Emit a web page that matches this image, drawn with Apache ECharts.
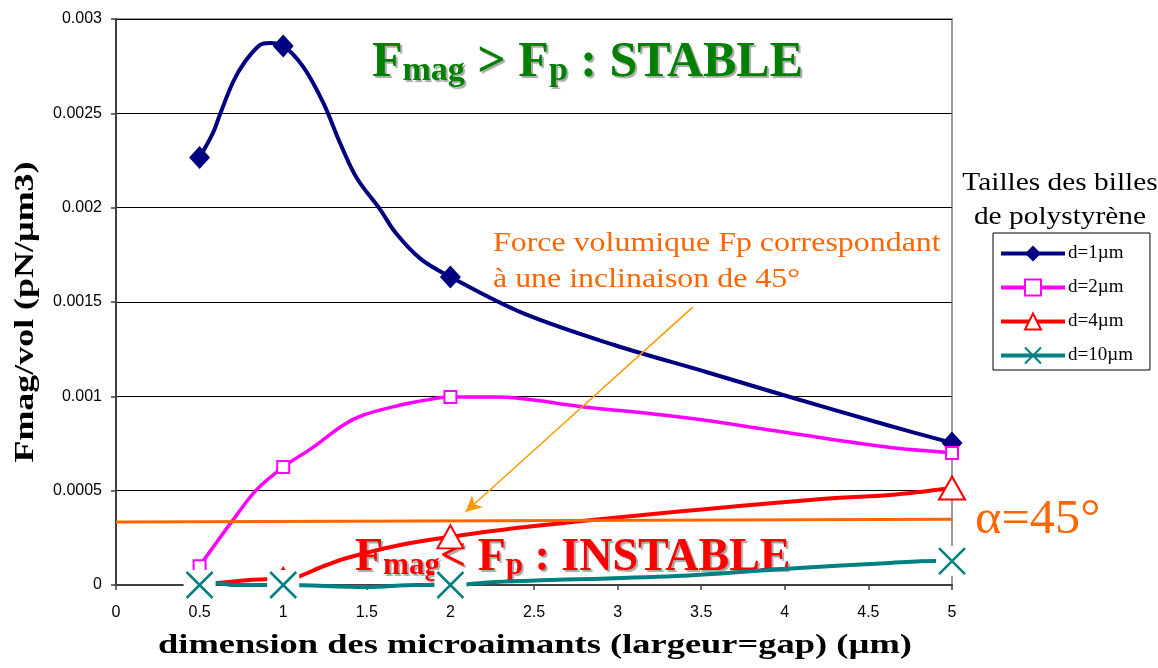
<!DOCTYPE html>
<html>
<head>
<meta charset="utf-8">
<script src="https://cdn.jsdelivr.net/npm/echarts@6/dist/echarts.min.js"></script>
<style>html,body{margin:0;padding:0;background:#fff}#c{width:1158px;height:668px}</style>
</head>
<body>
<div id="c"></div>
<script>
// ---- data ----
const seriesNames = ['d=1µm', 'd=2µm', 'd=4µm', 'd=10µm'];
const xTickLabels = ['0', '0.5', '1', '1.5', '2', '2.5', '3', '3.5', '4', '4.5', '5'];
const yTickLabels = ['0', '0.0005', '0.001', '0.0015', '0.002', '0.0025', '0.003'];
const gapSizes = [0.5, 1, 2, 5];

// measured points (with markers)
const d1Main = [0.002266, 0.002857, 0.001633, 0.000753];
const d2Main = [0.0001, 0.000625, 0.000996, 0.0007];
const d4Main = [0.000003, 0.00003, 0.000255, 0.000514];
const d10Main = [0, 0, 0, 0.000127];

// smoothed-curve trace points (no markers)
const d1Curve = [[0.58, 0.002396], [0.62, 0.00249], [0.70, 0.002666], [0.77, 0.002772], [0.86, 0.002862], [0.92, 0.002873],
  [1.12, 0.002746], [1.24, 0.002555], [1.34, 0.002343], [1.44, 0.002157], [1.58, 0.00199], [1.67, 0.00187], [1.82, 0.00173],
  [2.43, 0.001442], [2.98, 0.001272], [3.53, 0.001129], [3.99, 0.001007], [4.61, 0.000848]];
const d2Curve = [[0.70, 0.000345], [0.84, 0.000504], [1.18, 0.000731], [1.36, 0.000848], [1.48, 0.000901], [1.70, 0.000954], [1.79, 0.00097],
  [2.27, 0.000996], [2.80, 0.000944], [3.42, 0.000885], [3.99, 0.000811], [4.61, 0.000731]];
const d4Curve = [[0.6, 0.00001], [0.9, 0.00003], [1.26, 0.000106], [1.38, 0.000143], [1.70, 0.000212],
  [2.45, 0.000307], [3.40, 0.000392], [4.22, 0.000456], [4.63, 0.000477]];
const d10Curve = [[0.6, 0.00001], [0.7, 0], [1.5, -0.00001], [1.8, 0], [2.27, 0.000016], [3.35, 0.000048], [3.99, 0.000085], [4.63, 0.000117], [4.9, 0.000127]];

// Fp threshold (alpha = 45°)
const fpX = [0, 5];
const fpY = [0.000334, 0.000348];
// arrow annotation from label to threshold line
const arrowFrom = [3.45, 0.001473];
const arrowTo = [2.09, 0.000387];

// ---- build ----
function buildData(main, curve) {
  const pts = gapSizes.map((x, i) => ({ value: [x, main[i]] }));
  curve.forEach(p => pts.push({ value: p, symbol: 'none' }));
  pts.sort((a, b) => a.value[0] - b.value[0]);
  return pts;
}
const serif = '"Liberation Serif", "Times New Roman", serif';
const sans = '"Liberation Sans", Arial, sans-serif';
const colors = ['#000080', '#FF00FF', '#FF0000', '#008080'];
const crossPath = 'path://M0,0L20,20M20,0L0,20';

const chart = echarts.init(document.getElementById('c'), null, { renderer: 'canvas' });
const lineBase = { type: 'line', smooth: 0.35, z: 2, clip: false, animation: false, showAllSymbol: true, emphasis: { disabled: true } };

function richLabel(color, fb, lb, fs, ls) {
  const sh = { textShadowColor: '#a8a8a8', textShadowBlur: 1, textShadowOffsetX: 2, textShadowOffsetY: 2 };
  return {
    b: Object.assign({ fontFamily: serif, fontWeight: 'bold', fontSize: fb, fill: color, lineHeight: lb, verticalAlign: 'bottom' }, sh),
    s: Object.assign({ fontFamily: serif, fontWeight: 'bold', fontSize: fs, fill: color, lineHeight: ls, verticalAlign: 'bottom' }, sh)
  };
}

const option = {
  animation: false,
  grid: { left: 116, right: 206, top: 19, bottom: 83, show: true, borderColor: '#999', borderWidth: 2, backgroundColor: 'transparent' },
  xAxis: {
    type: 'value', min: 0, max: 5, interval: 0.5,
    axisLine: { show: true, onZero: false, lineStyle: { color: '#404040', width: 2 } },
    axisTick: { show: true, length: 5, lineStyle: { color: '#404040', width: 1.5 } },
    splitLine: { show: false },
    axisLabel: { color: '#000', fontFamily: sans, fontSize: 16, margin: 20,
      formatter: (v, i) => xTickLabels[i] }
  },
  yAxis: {
    type: 'value', min: 0, max: 0.003, interval: 0.0005,
    axisLine: { show: true, lineStyle: { color: '#404040', width: 2 } },
    axisTick: { show: true, length: 5, lineStyle: { color: '#404040', width: 1.5 } },
    splitLine: { show: true, lineStyle: { color: '#000', width: 1 } },
    axisLabel: { color: '#000', fontFamily: sans, fontSize: 16, margin: 14,
      formatter: (v, i) => yTickLabels[i] }
  },
  legend: {
    data: seriesNames, orient: 'vertical', left: 993, top: 233, width: 152,
    padding: [11, 17, 5, 6], itemGap: 15, itemWidth: 64, itemHeight: 20,
    borderColor: '#000', borderWidth: 1, backgroundColor: '#fff',
    lineStyle: { width: 4 },
    textStyle: { fontFamily: serif, fontSize: 19, color: '#000', padding: [0, 0, 0, -2] },
    selectedMode: false
  },
  series: [
    Object.assign({}, lineBase, { name: seriesNames[0], data: buildData(d1Main, d1Curve),
      symbol: 'diamond', symbolSize: [21, 23], lineStyle: { color: colors[0], width: 4 },
      itemStyle: { color: colors[0] } }),
    Object.assign({}, lineBase, { name: seriesNames[1], data: buildData(d2Main, d2Curve),
      symbol: 'rect', symbolSize: 12, lineStyle: { color: colors[1], width: 3.5 },
      itemStyle: { color: '#fff', borderColor: colors[1], borderWidth: 2 } }),
    Object.assign({}, lineBase, { name: seriesNames[2], data: buildData(d4Main, d4Curve),
      symbol: 'triangle', symbolSize: [26, 23], lineStyle: { color: colors[2], width: 4 },
      itemStyle: { color: '#fff', borderColor: colors[2], borderWidth: 2 } }),
    Object.assign({}, lineBase, { name: seriesNames[3], data: buildData(d10Main, d10Curve),
      symbol: crossPath, symbolSize: 26, lineStyle: { color: colors[3], width: 4 },
      itemStyle: { color: 'rgba(0,0,0,0)', borderColor: colors[3], borderWidth: 2.5 } }),
    // white backing of the cross markers (hides lines underneath, as in the original)
    { type: 'scatter', z: 3, silent: true, animation: false, clip: false,
      data: gapSizes.map((x, i) => [x, d10Main[i]]), symbol: 'rect', symbolSize: [32, 30],
      itemStyle: { color: '#fff', opacity: 1 } },
    { type: 'scatter', z: 4, silent: true, animation: false, clip: false,
      data: gapSizes.map((x, i) => [x, d10Main[i]]), symbol: crossPath, symbolSize: 26,
      itemStyle: { color: 'rgba(0,0,0,0)', borderColor: colors[3], borderWidth: 2.5, opacity: 1 } },
    // Fp threshold line + arrow annotation
    { type: 'line', z: 2, silent: true, animation: false, symbol: 'none',
      data: fpX.map((x, i) => [x, fpY[i]]), lineStyle: { color: '#FF6600', width: 3 },
      markLine: { silent: true, animation: false, symbol: ['none', 'arrow'], symbolSize: [12, 16],
        label: { show: false }, lineStyle: { color: '#FF9900', width: 1.5, type: 'solid' },
        data: [[{ coord: arrowFrom }, { coord: arrowTo }]] } }
  ],
  graphic: [
    { type: 'text', left: 372, top: 38, z: 1, silent: true,
      style: { text: '{b|F}{s|mag}{b| > F}{s|p}{b| : STABLE}', rich: richLabel('#008000', 50, 54, 34, 42) } },
    { type: 'text', left: 355, top: 535, z: 1, silent: true,
      style: { text: '{b|F}{s|mag}{b|< F}{s|p}{b| : INSTABLE}', rich: richLabel('#FF0000', 46, 50, 31, 39) } },
    { type: 'text', x: 493, y: 226, scaleX: 1.14, z: 1, silent: true,
      style: { text: 'Force volumique Fp correspondant\nà une inclinaison de 45°', fontFamily: serif, fontSize: 28,
        lineHeight: 36, fill: '#FF6600' } },
    { type: 'text', x: 975, y: 520, scaleX: 1.05, z: 1, silent: true,
      style: { text: 'α=45°', fontFamily: serif, fontSize: 48, fill: '#FF6600', verticalAlign: 'middle' } },
    { type: 'text', x: 1060, y: 166, scaleX: 1.13, z: 1, silent: true,
      style: { text: 'Tailles des billes\nde polystyrène', fontFamily: serif, fontSize: 26, lineHeight: 34,
        fill: '#000', align: 'center' } },
    // axis titles
    { type: 'text', x: 535, y: 646, scaleX: 1.35, z: 1, silent: true,
      style: { text: 'dimension des microaimants (largeur=gap) (µm)', fontFamily: serif, fontWeight: 'bold', fontSize: 27,
        fill: '#000', align: 'center', verticalAlign: 'middle' } },
    { type: 'text', x: 26, y: 312, rotation: Math.PI / 2, scaleX: 1.33, z: 1, silent: true,
      style: { text: 'Fmag/vol (pN/µm3)', fontFamily: serif, fontWeight: 'bold', fontSize: 27,
        fill: '#000', align: 'center', verticalAlign: 'middle' } }
  ]
};
chart.setOption(option);
</script>
</body>
</html>
